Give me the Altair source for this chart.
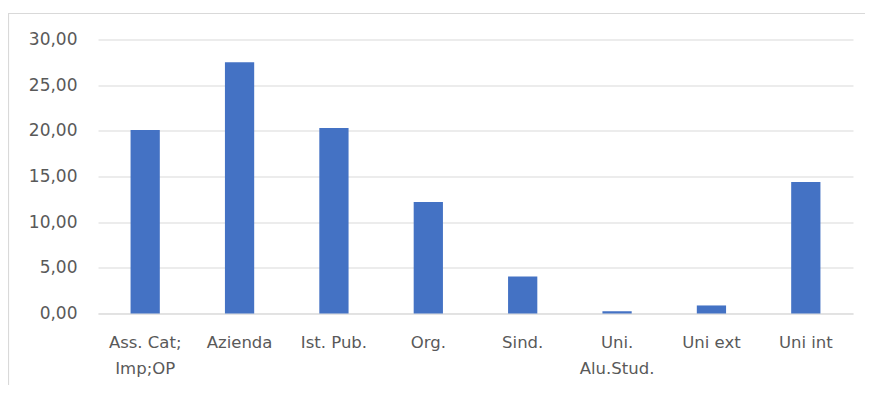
import altair as alt
import pandas as pd

categories = ["Ass. Cat;\nImp;OP", "Azienda", "Ist.  Pub.", "Org.", "Sind.", "Uni.\nAlu.Stud.", "Uni ext", "Uni int"]
values = [20.1, 27.5, 20.3, 12.2, 4.05, 0.25, 0.88, 14.4]

df = pd.DataFrame({"cat": categories, "val": values})

W, H = 755, 274
FONT = "DejaVu Sans"
GRAY = "#595959"

bars = alt.Chart(df).mark_bar(color="#4472C4").encode(
    x=alt.X("cat:N", sort=categories, title=None,
            scale=alt.Scale(paddingInner=0.69, paddingOuter=0.345),
            axis=alt.Axis(labelAngle=0, ticks=False, domain=True, domainColor="#d9d9d9",
                          labelExpr="split(datum.label, '\\n')", labelLineHeight=26,
                          labelPadding=21, labelFont=FONT, labelFontSize=16.5, labelColor=GRAY,
                          labelBaseline="top")),
    y=alt.Y("val:Q", title=None,
            scale=alt.Scale(domain=[0, 30]),
            axis=alt.Axis(values=[0, 5, 10, 15, 20, 25, 30], ticks=False, domain=False,
                          grid=True, gridColor="#d9d9d9", gridWidth=1,
                          labelExpr="replace(format(datum.value, '.2f'), '.', ',')",
                          labelPadding=21, labelFont=FONT, labelFontSize=17, labelColor=GRAY)),
)

frame = alt.Chart(alt.Data(values=[{}])).mark_rect(
    fill=None, stroke="#d9d9d9", strokeWidth=1.2, clip=False
).encode(
    x=alt.value(-89.5), x2=alt.value(W + 40), y=alt.value(-26), y2=alt.value(H + 140)
)

chart = alt.layer(frame, bars).properties(
    width=W, height=H,
    background="white",
    autosize=alt.AutoSizeParams(type="none"),
    padding={"left": 90, "top": 31.5, "right": 12, "bottom": 71},
).configure_view(stroke=None, strokeWidth=0)

chart.save("out.html", embed_options={"renderer": "svg", "actions": False})
